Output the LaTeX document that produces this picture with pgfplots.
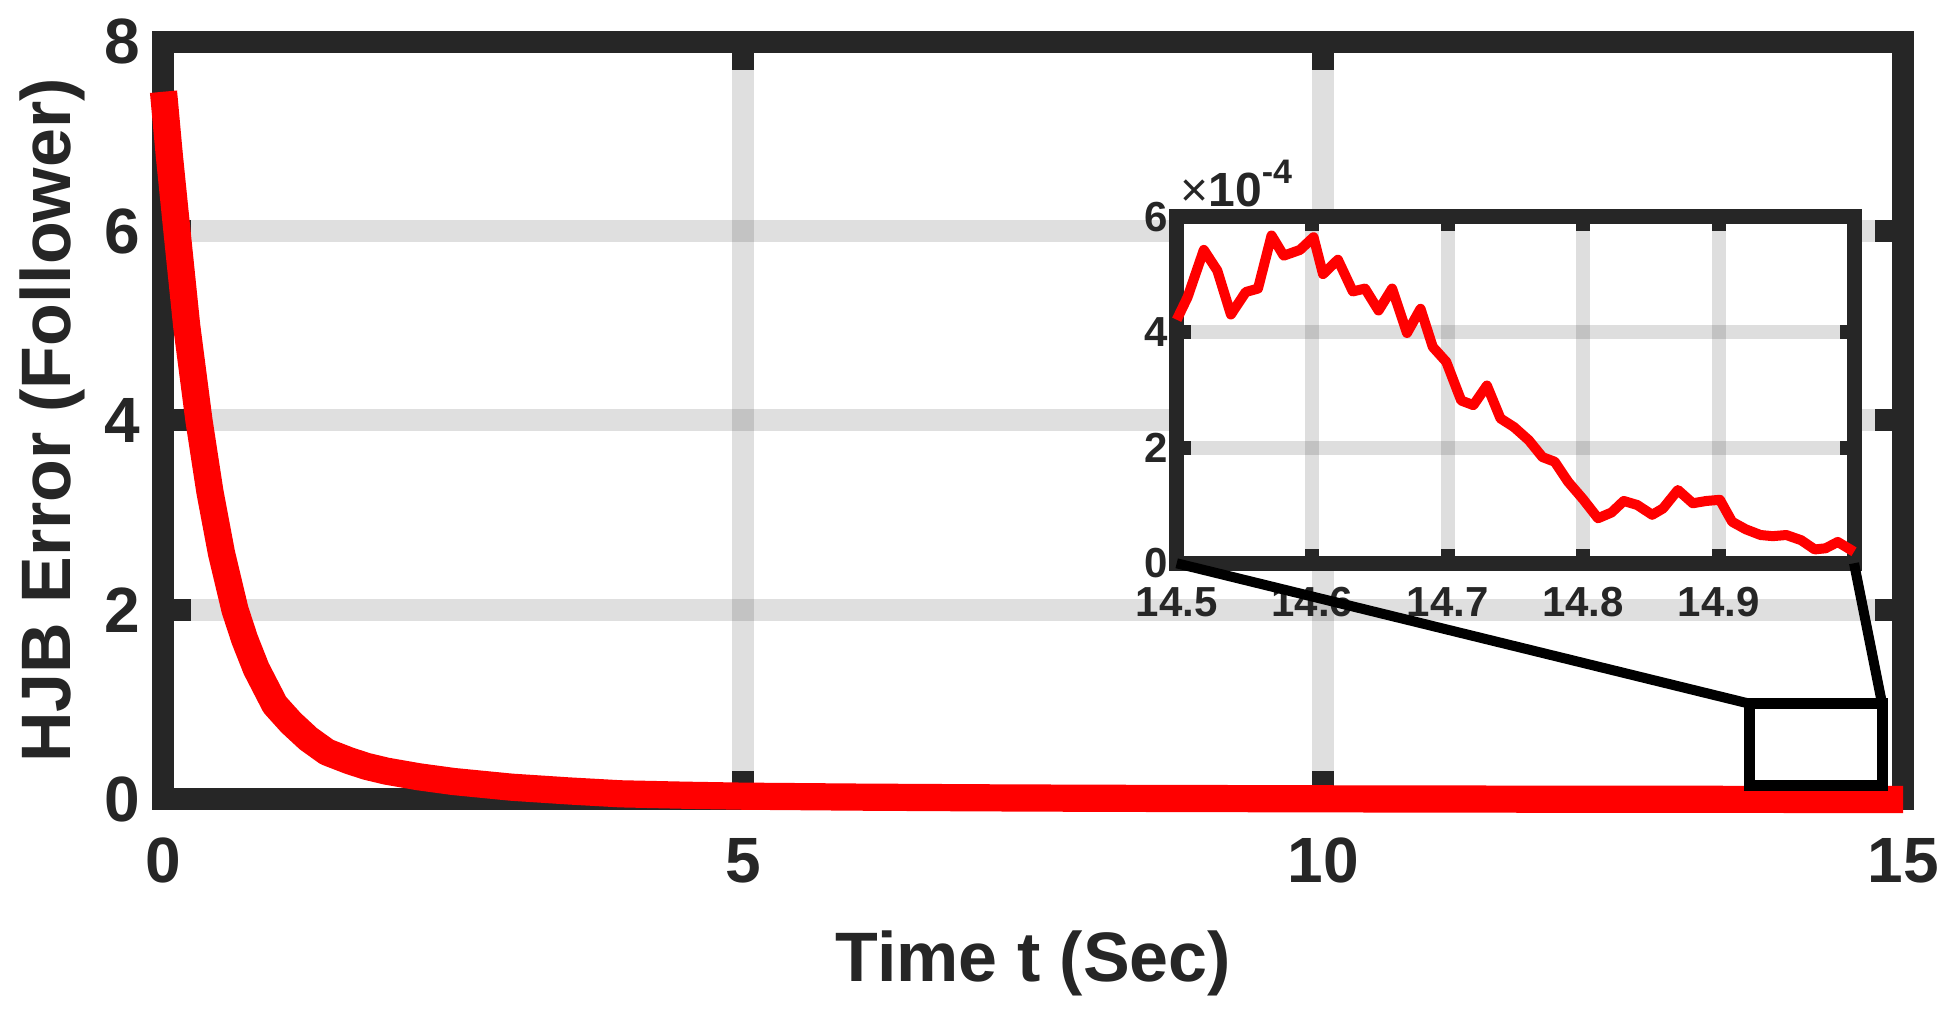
\documentclass[border=0pt]{standalone}
\usepackage{fontspec}
\setmainfont{Liberation Sans}
\usepackage{pgfplots}
\pgfplotsset{compat=1.18}
\definecolor{axcol}{RGB}{38,38,38}
\definecolor{mred}{RGB}{255,0,0}

\begin{document}
\begin{tikzpicture}
\begin{axis}[name=main, scale only axis, width=869.75pt, height=379pt,
  xmin=0, xmax=15, ymin=0, ymax=8,
  xtick={0,5,10,15}, ytick={0,2,4,6,8},
  clip=false, axis on top=false,
  axis line style={line width=11pt, color=axcol, line cap=rect},
  tick style={line width=11pt, color=axcol},
  major tick length=14pt, tick align=inside,
  grid=major, major grid style={line width=11pt, color=axcol, opacity=0.15},
  /pgf/number format/assume math mode=true,
  ticklabel style={font=\fontsize{32}{38}\selectfont\bfseries, text=axcol},
  xticklabel style={yshift=-15.8pt},
  yticklabel style={xshift=-8pt},
  xlabel={Time t (Sec)}, ylabel={HJB Error (Follower)},
  label style={font=\fontsize{35}{42}\selectfont\bfseries, text=axcol},
  xlabel style={at={(axis description cs:0.5,0)}, anchor=base, yshift=-91.1pt},
  ylabel style={at={(axis description cs:-0.05318,0.5)}, anchor=base},
]
\addplot[mred, line width=13.6pt, line cap=butt, line join=round] table {
x y
0 7.47
0.05 6.80
0.116 6.00
0.2 5.00
0.306 4.00
0.4 3.25
0.5 2.60
0.617 2.00
0.7 1.69
0.8 1.38
0.96 1.00
1.1 0.81
1.25 0.64
1.41 0.50
1.6 0.41
1.75 0.35
1.92 0.30
2.2 0.24
2.5 0.19
3.0 0.13
3.5 0.09
3.94 0.06
4.5 0.045
5 0.035
6 0.025
7 0.018
8 0.013
10 0.007
12 0.003
14 0.001
15 0.0002
};
\draw[black, line width=5.5pt] (axis cs:13.68,0.146) rectangle (axis cs:14.82,1.01);
\coordinate (rTL) at (axis cs:13.68,1.01);
\coordinate (rTR) at (axis cs:14.82,1.01);
\end{axis}

\begin{axis}[name=ins, at={(506.6pt,118.1pt)}, anchor=south west,
  scale only axis, width=338.65pt, height=173.15pt,
  xmin=14.5, xmax=15, ymin=0, ymax=6,
  xtick={14.5,14.6,14.7,14.8,14.9}, xticklabels={14.5,14.6,14.7,14.8,14.9},
  ytick={0,2,4,6},
  clip=false, axis on top=false,
  axis background/.style={fill=white},
  axis line style={line width=7.5pt, color=axcol, line cap=rect},
  tick style={line width=7pt, color=axcol},
  major tick length=7pt, tick align=inside,
  grid=major, major grid style={line width=7pt, color=axcol, opacity=0.15},
  /pgf/number format/assume math mode=true,
  ticklabel style={font=\fontsize{21}{25}\selectfont\bfseries, text=axcol},
  xticklabel style={yshift=-8.5pt},
  yticklabel style={xshift=-1pt},
]
\addplot[mred, line width=5pt, line join=round] table {
x y
14.5 4.22
14.508 4.61
14.520 5.43
14.530 5.07
14.540 4.31
14.551 4.70
14.560 4.76
14.570 5.68
14.579 5.33
14.591 5.43
14.601 5.65
14.608 5.01
14.619 5.26
14.630 4.71
14.639 4.76
14.649 4.38
14.659 4.76
14.670 3.99
14.680 4.41
14.689 3.75
14.699 3.49
14.710 2.82
14.719 2.74
14.729 3.08
14.739 2.51
14.749 2.36
14.760 2.13
14.770 1.84
14.779 1.76
14.789 1.41
14.800 1.11
14.811 0.78
14.821 0.88
14.830 1.08
14.840 1.01
14.851 0.84
14.859 0.95
14.870 1.27
14.881 1.04
14.891 1.08
14.901 1.10
14.910 0.72
14.920 0.59
14.931 0.49
14.940 0.47
14.950 0.49
14.961 0.40
14.971 0.24
14.979 0.26
14.988 0.37
15.0 0.20
};
\node[anchor=base west, inner sep=0pt, text=axcol, font=\fontsize{24}{28}\selectfont\bfseries]
  at ([xshift=1.65pt,yshift=5.15pt]axis description cs:0,1)
  {{\mdseries ×}10\raisebox{11.5pt}{\fontsize{17}{20}\selectfont -4}};
\end{axis}

\draw[black, line width=5pt] (ins.south west) -- (rTL);
\draw[black, line width=5pt] (ins.south east) -- (rTR);

\path[use as bounding box] (-81.75pt,-105.25pt) rectangle (891.75pt,399.75pt);
\end{tikzpicture}
\end{document}
